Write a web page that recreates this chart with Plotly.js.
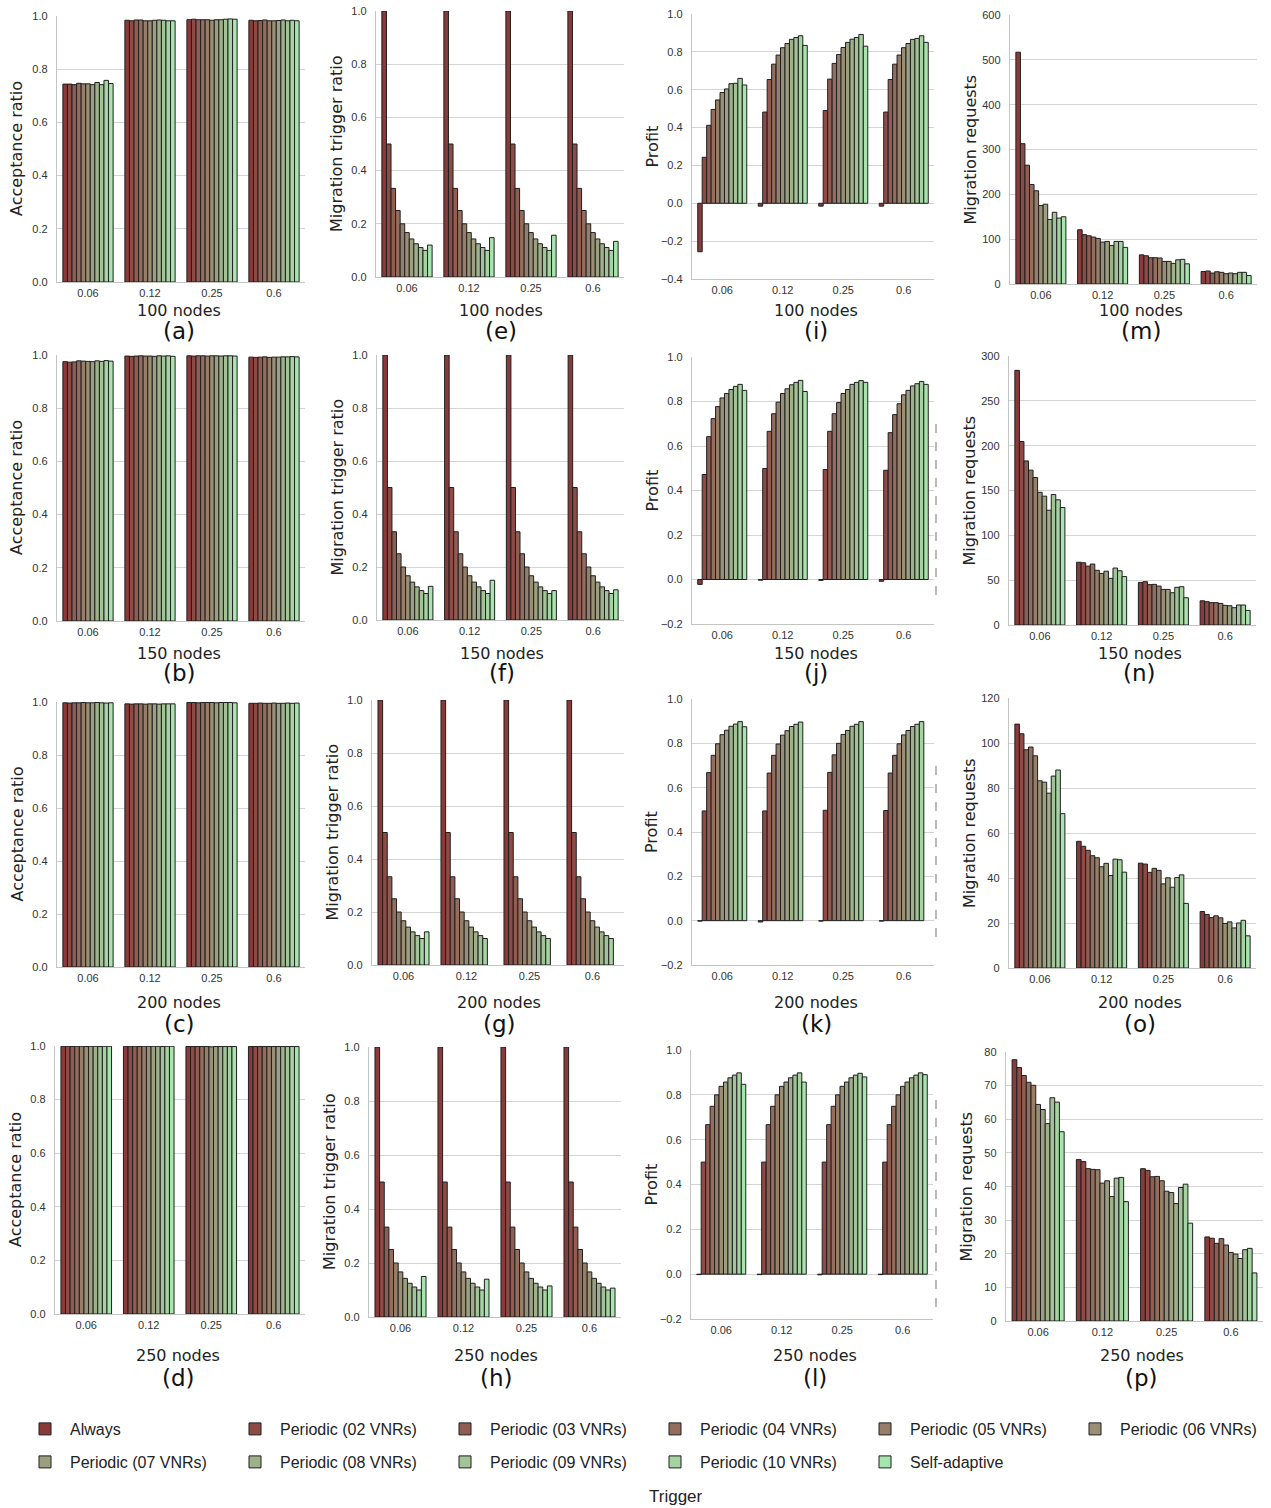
<!DOCTYPE html>
<html>
<head>
<meta charset="utf-8">
<script src="https://cdn.plot.ly/plotly-3.0.1.min.js"></script>
<style>
  html, body { margin: 0; padding: 0; background: #ffffff; }
  #chart { width: 1271px; height: 1508px; }
</style>
</head>
<body>
<div id="chart"></div>
<script>
// Bar groups on every x axis (migration threshold) and the compared triggers
const groups = ['0.06', '0.12', '0.25', '0.6'];
const triggers = [
  'Always', 'Periodic (02 VNRs)', 'Periodic (03 VNRs)', 'Periodic (04 VNRs)',
  'Periodic (05 VNRs)', 'Periodic (06 VNRs)', 'Periodic (07 VNRs)',
  'Periodic (08 VNRs)', 'Periodic (09 VNRs)', 'Periodic (10 VNRs)', 'Self-adaptive'
];
const palette = [
  '#8b3a3a', '#8e4b46', '#915c51', '#946d5d', '#977e68', '#9a8f74',
  '#9ca080', '#9fb18b', '#a2c297', '#a5d3a2', '#a8e4ae'
];

// Each array: one row per threshold group, one value per trigger (in the order above)
const acceptance100 = [
  [0.744, 0.744, 0.742, 0.747, 0.745, 0.745, 0.742, 0.750, 0.742, 0.758, 0.746],
  [0.984, 0.982, 0.985, 0.985, 0.982, 0.982, 0.984, 0.985, 0.984, 0.982, 0.982],
  [0.986, 0.988, 0.986, 0.986, 0.986, 0.984, 0.986, 0.986, 0.988, 0.989, 0.988],
  [0.984, 0.982, 0.983, 0.985, 0.982, 0.982, 0.983, 0.985, 0.982, 0.984, 0.982]
];
const acceptance150 = [
  [0.975, 0.973, 0.974, 0.978, 0.977, 0.976, 0.975, 0.978, 0.976, 0.979, 0.977],
  [0.996, 0.995, 0.996, 0.997, 0.996, 0.996, 0.995, 0.997, 0.996, 0.997, 0.995],
  [0.997, 0.996, 0.997, 0.997, 0.996, 0.997, 0.997, 0.996, 0.997, 0.997, 0.996],
  [0.992, 0.991, 0.992, 0.993, 0.991, 0.992, 0.992, 0.993, 0.993, 0.994, 0.993]
];
const acceptance200 = [
  [0.997, 0.996, 0.997, 0.997, 0.998, 0.997, 0.997, 0.998, 0.997, 0.996, 0.997],
  [0.993, 0.992, 0.993, 0.993, 0.992, 0.993, 0.993, 0.992, 0.993, 0.993, 0.993],
  [0.998, 0.998, 0.997, 0.998, 0.998, 0.998, 0.997, 0.998, 0.998, 0.998, 0.997],
  [0.995, 0.995, 0.996, 0.995, 0.995, 0.996, 0.995, 0.995, 0.996, 0.995, 0.996]
];
const acceptance250 = [
  [0.999, 0.999, 0.998, 0.999, 0.999, 0.998, 0.999, 0.999, 0.998, 0.999, 0.999],
  [0.999, 0.999, 0.999, 0.998, 0.999, 0.999, 0.999, 0.999, 0.998, 0.999, 0.999],
  [0.998, 0.998, 0.998, 0.998, 0.998, 0.997, 0.998, 0.998, 0.998, 0.998, 0.998],
  [0.998, 0.998, 0.998, 0.998, 0.998, 0.998, 0.998, 0.998, 0.998, 0.998, 0.998]
];

const trigger100 = [
  [1.0, 0.5, 0.333, 0.25, 0.2, 0.167, 0.143, 0.125, 0.111, 0.1, 0.12],
  [1.0, 0.5, 0.333, 0.25, 0.2, 0.167, 0.143, 0.125, 0.111, 0.1, 0.148],
  [1.0, 0.5, 0.333, 0.25, 0.2, 0.167, 0.143, 0.125, 0.111, 0.1, 0.157],
  [1.0, 0.5, 0.333, 0.25, 0.2, 0.167, 0.143, 0.125, 0.111, 0.1, 0.134]
];
const trigger150 = [
  [1.0, 0.5, 0.333, 0.25, 0.2, 0.167, 0.143, 0.125, 0.111, 0.1, 0.127],
  [1.0, 0.5, 0.333, 0.25, 0.2, 0.167, 0.143, 0.125, 0.111, 0.1, 0.15],
  [1.0, 0.5, 0.333, 0.25, 0.2, 0.167, 0.143, 0.125, 0.111, 0.1, 0.111],
  [1.0, 0.5, 0.333, 0.25, 0.2, 0.167, 0.143, 0.125, 0.111, 0.1, 0.114]
];
const trigger200 = [
  [1.0, 0.5, 0.333, 0.25, 0.2, 0.167, 0.143, 0.125, 0.111, 0.1, 0.125],
  [1.0, 0.5, 0.333, 0.25, 0.2, 0.167, 0.143, 0.125, 0.111, 0.1, null],
  [1.0, 0.5, 0.333, 0.25, 0.2, 0.167, 0.143, 0.125, 0.111, 0.1, null],
  [1.0, 0.5, 0.333, 0.25, 0.2, 0.167, 0.143, 0.125, 0.111, 0.1, null]
];
const trigger250 = [
  [1.0, 0.5, 0.333, 0.25, 0.2, 0.167, 0.143, 0.125, 0.111, 0.1, 0.15],
  [1.0, 0.5, 0.333, 0.25, 0.2, 0.167, 0.143, 0.125, 0.111, 0.1, 0.14],
  [1.0, 0.5, 0.333, 0.25, 0.2, 0.167, 0.143, 0.125, 0.111, 0.1, 0.115],
  [1.0, 0.5, 0.333, 0.25, 0.2, 0.167, 0.143, 0.125, 0.111, 0.1, 0.107]
];

const profit100 = [
  [-0.256, 0.243, 0.412, 0.496, 0.546, 0.585, 0.604, 0.632, 0.634, 0.660, 0.625],
  [-0.015, 0.482, 0.654, 0.735, 0.783, 0.822, 0.844, 0.866, 0.876, 0.885, 0.834],
  [-0.015, 0.490, 0.656, 0.739, 0.786, 0.823, 0.850, 0.867, 0.876, 0.892, 0.830],
  [-0.015, 0.482, 0.654, 0.735, 0.783, 0.822, 0.844, 0.866, 0.871, 0.885, 0.850]
];
const profit150 = [
  [-0.022, 0.472, 0.642, 0.723, 0.777, 0.816, 0.836, 0.854, 0.868, 0.877, 0.850],
  [-0.003, 0.499, 0.666, 0.745, 0.797, 0.836, 0.857, 0.875, 0.886, 0.895, 0.845],
  [-0.004, 0.494, 0.666, 0.745, 0.795, 0.836, 0.854, 0.877, 0.886, 0.894, 0.886],
  [-0.008, 0.491, 0.660, 0.741, 0.790, 0.830, 0.850, 0.870, 0.880, 0.890, 0.877]
];
const profit200 = [
  [-0.002, 0.495, 0.668, 0.746, 0.798, 0.839, 0.859, 0.877, 0.887, 0.898, 0.875],
  [-0.006, 0.495, 0.666, 0.746, 0.797, 0.837, 0.857, 0.876, 0.886, 0.896, null],
  [-0.002, 0.498, 0.669, 0.748, 0.800, 0.840, 0.858, 0.877, 0.886, 0.898, null],
  [-0.002, 0.497, 0.666, 0.746, 0.798, 0.838, 0.858, 0.876, 0.886, 0.898, null]
];
const profit250 = [
  [-0.002, 0.500, 0.667, 0.749, 0.800, 0.838, 0.857, 0.876, 0.888, 0.898, 0.847],
  [-0.002, 0.500, 0.667, 0.749, 0.800, 0.838, 0.857, 0.876, 0.888, 0.898, 0.857],
  [-0.003, 0.500, 0.667, 0.749, 0.800, 0.838, 0.857, 0.876, 0.888, 0.896, 0.880],
  [-0.002, 0.500, 0.667, 0.749, 0.800, 0.838, 0.857, 0.876, 0.888, 0.898, 0.890]
];

const requests100 = [
  [517, 313, 265, 222, 208, 175, 178, 144, 160, 147, 150],
  [121, 110, 107.5, 104.6, 101.6, 93.5, 95, 86, 95, 95, 81.6],
  [65, 63, 58.6, 58.6, 58, 50.4, 50.4, 46, 54, 55, 45],
  [28, 29, 24.5, 27.4, 26, 23, 24.5, 23, 26, 26, 19]
];
const requests150 = [
  [284, 204.6, 183, 172.7, 164.5, 148, 143.7, 128, 145.5, 139.6, 131],
  [70, 69.4, 65.7, 68, 61, 57.5, 60, 52, 63.5, 60.5, 54],
  [47.5, 48.3, 45, 45.3, 43.4, 39.7, 39.7, 36, 42, 42.7, 30.4],
  [27, 26, 24.9, 24.9, 24.1, 21.9, 21.5, 19.3, 22.3, 22.3, 16.3]
];
const requests200 = [
  [108.4, 104.1, 97, 98.2, 94.3, 83.2, 82.6, 77.7, 85.3, 88, 68.6],
  [56.3, 54.1, 52.3, 49.9, 49, 45, 46.5, 41.1, 48.4, 48.1, 42.6],
  [46.6, 46.2, 42.5, 44.3, 43.4, 37.4, 40.1, 35.9, 40.2, 41.4, 28.7],
  [25.1, 23.8, 22.4, 23.2, 22.3, 19.8, 20.5, 17.8, 20, 21.2, 14.3]
];
const requests250 = [
  [77.7, 75.4, 73, 71, 70.1, 64.4, 62.9, 58.7, 66.4, 65.1, 56.3],
  [48, 47.4, 45.3, 45.1, 45, 41, 41.7, 37, 42.5, 42.7, 35.5],
  [45.3, 44.8, 42.9, 43, 41.7, 38.6, 38.2, 34.9, 39.7, 40.7, 29.1],
  [25, 24.6, 23.1, 24.5, 22.6, 20.4, 19.9, 18.6, 21.2, 21.6, 14.3]
];

// Page geometry (pixels)
const W = 1271, H = 1508;

// One entry per panel: data, axis setup and its plot-area box [left, right, top, bottom]
const panels = [
  { data: acceptance100, ytitle: 'Acceptance ratio', nodes: '100 nodes', tag: '(a)', row: 0, col: 0, range: [0, 1], dtick: 0.2, fmt: '.1f', box: [57, 305, 16, 282] },
  { data: acceptance150, ytitle: 'Acceptance ratio', nodes: '150 nodes', tag: '(b)', row: 1, col: 0, range: [0, 1], dtick: 0.2, fmt: '.1f', box: [57, 305, 355, 621] },
  { data: acceptance200, ytitle: 'Acceptance ratio', nodes: '200 nodes', tag: '(c)', row: 2, col: 0, range: [0, 1], dtick: 0.2, fmt: '.1f', box: [57, 305, 702, 967] },
  { data: acceptance250, ytitle: 'Acceptance ratio', nodes: '250 nodes', tag: '(d)', row: 3, col: 0, range: [0, 1], dtick: 0.2, fmt: '.1f', box: [55, 305, 1046, 1314] },
  { data: trigger100, ytitle: 'Migration trigger ratio', nodes: '100 nodes', tag: '(e)', row: 0, col: 1, range: [0, 1], dtick: 0.2, fmt: '.1f', box: [376, 624, 11, 277] },
  { data: trigger150, ytitle: 'Migration trigger ratio', nodes: '150 nodes', tag: '(f)', row: 1, col: 1, range: [0, 1], dtick: 0.2, fmt: '.1f', box: [377, 624, 355, 620] },
  { data: trigger200, ytitle: 'Migration trigger ratio', nodes: '200 nodes', tag: '(g)', row: 2, col: 1, range: [0, 1], dtick: 0.2, fmt: '.1f', box: [372, 624, 700, 965] },
  { data: trigger250, ytitle: 'Migration trigger ratio', nodes: '250 nodes', tag: '(h)', row: 3, col: 1, range: [0, 1], dtick: 0.2, fmt: '.1f', box: [369, 621, 1047, 1317] },
  { data: profit100, ytitle: 'Profit', nodes: '100 nodes', tag: '(i)', row: 0, col: 2, range: [-0.4, 1], dtick: 0.2, fmt: '.1f', box: [692, 934, 14, 279] },
  { data: profit150, ytitle: 'Profit', nodes: '150 nodes', tag: '(j)', row: 1, col: 2, range: [-0.2, 1], dtick: 0.2, fmt: '.1f', box: [692, 934, 357, 624] },
  { data: profit200, ytitle: 'Profit', nodes: '200 nodes', tag: '(k)', row: 2, col: 2, range: [-0.2, 1], dtick: 0.2, fmt: '.1f', box: [692, 934, 699, 965] },
  { data: profit250, ytitle: 'Profit', nodes: '250 nodes', tag: '(l)', row: 3, col: 2, range: [-0.2, 1], dtick: 0.2, fmt: '.1f', box: [691, 933, 1050, 1319] },
  { data: requests100, ytitle: 'Migration requests', nodes: '100 nodes', tag: '(m)', row: 0, col: 3, range: [0, 600], dtick: 100, fmt: 'd', box: [1010, 1257, 15, 284] },
  { data: requests150, ytitle: 'Migration requests', nodes: '150 nodes', tag: '(n)', row: 1, col: 3, range: [0, 300], dtick: 50, fmt: 'd', box: [1009, 1256, 356, 625] },
  { data: requests200, ytitle: 'Migration requests', nodes: '200 nodes', tag: '(o)', row: 2, col: 3, range: [0, 120], dtick: 20, fmt: 'd', box: [1009, 1256, 698, 968] },
  { data: requests250, ytitle: 'Migration requests', nodes: '250 nodes', tag: '(p)', row: 3, col: 3, range: [0, 80], dtick: 10, fmt: 'd', box: [1006, 1263, 1052, 1321] }
];

// Vertical placement of the caption lines under each row, horizontal nudge per column
const nodesLineY = [310, 653, 1002, 1355];
const tagLineY = [331, 673, 1024, 1378];
const captionShift = [-2, 1, 3, 7];

const tickFont = { family: 'Liberation Sans, Arial, sans-serif', size: 11, color: '#333333' };
const titleFont = { family: 'DejaVu Sans, sans-serif', size: 16, color: '#222222' };
const legendFont = { family: 'Liberation Sans, Arial, sans-serif', size: 16, color: '#222222' };

const legendBase = {
  orientation: 'h', x: 20 / W, xanchor: 'left', yanchor: 'middle',
  font: legendFont, itemwidth: 40, entrywidth: 155, entrywidthmode: 'pixels',
  bgcolor: 'rgba(0,0,0,0)', borderwidth: 0, traceorder: 'normal',
  itemclick: false, itemdoubleclick: false
};

const traces = [];
const layout = {
  width: W,
  height: H,
  margin: { l: 0, r: 0, t: 0, b: 0 },
  paper_bgcolor: '#ffffff',
  plot_bgcolor: '#ffffff',
  barmode: 'group',
  bargap: 0.19,
  bargroupgap: 0,
  font: { family: 'Liberation Sans, Arial, sans-serif', color: '#222222' },
  annotations: [],
  shapes: [],
  legend: Object.assign({}, legendBase, { y: 1 - 1429 / H }),
  legend2: Object.assign({}, legendBase, { y: 1 - 1462 / H })
};

panels.forEach((p, k) => {
  const n = k === 0 ? '' : String(k + 1);
  const [left, right, top, bottom] = p.box;

  triggers.forEach((name, s) => {
    const trace = {
      type: 'bar',
      name: name,
      x: groups,
      y: p.data.map(row => row[s]),
      xaxis: 'x' + n,
      yaxis: 'y' + n,
      marker: { color: palette[s], line: { color: '#1f1f1f', width: 1 } },
      legend: s < 6 ? 'legend' : 'legend2',
      legendgroup: name,
      showlegend: k === 0,
      hovertemplate: name + '<br>%{x}: %{y}<extra></extra>'
    };
    // last entry of the first legend row only needs room for its own text
    if (s === 5) trace.legendwidth = 140;
    traces.push(trace);
  });

  layout['xaxis' + n] = {
    domain: [left / W, right / W],
    anchor: 'y' + n,
    type: 'category',
    showgrid: false,
    showline: true,
    linecolor: '#c4c4c4',
    linewidth: 1.2,
    ticks: '',
    tickfont: tickFont,
    ticklabelstandoff: 1,
    fixedrange: true
  };
  layout['yaxis' + n] = {
    domain: [1 - bottom / H, 1 - top / H],
    anchor: 'x' + n,
    range: p.range,
    tick0: 0,
    dtick: p.dtick,
    tickformat: p.fmt,
    showgrid: true,
    gridcolor: '#d4d4d4',
    gridwidth: 1,
    zeroline: false,
    showline: true,
    linecolor: '#c4c4c4',
    linewidth: 1.2,
    ticks: '',
    tickfont: tickFont,
    ticklabelstandoff: 6,
    fixedrange: true
  };

  layout.annotations.push({
    text: p.ytitle, textangle: -90, showarrow: false,
    xref: 'x' + n + ' domain', yref: 'y' + n + ' domain',
    x: 0, y: 0.5, xanchor: 'center', yanchor: 'middle', xshift: -40,
    font: titleFont
  });
  layout.annotations.push({
    text: p.nodes, showarrow: false,
    xref: 'x' + n + ' domain', yref: 'paper',
    x: 0.5, y: 1 - nodesLineY[p.row] / H, xanchor: 'center', yanchor: 'middle',
    xshift: captionShift[p.col],
    font: titleFont
  });
  layout.annotations.push({
    text: p.tag, showarrow: false,
    xref: 'x' + n + ' domain', yref: 'paper',
    x: 0.5, y: 1 - tagLineY[p.row] / H, xanchor: 'center', yanchor: 'middle',
    xshift: captionShift[p.col],
    font: { family: 'DejaVu Sans, sans-serif', size: 23, color: '#111111' }
  });
});

// Legend heading
layout.annotations.push({
  text: 'Trigger', showarrow: false, xref: 'paper', yref: 'paper',
  x: 676 / W, y: 1 - 1496 / H, xanchor: 'center', yanchor: 'middle',
  font: { family: 'Liberation Sans, Arial, sans-serif', size: 17, color: '#222222' }
});

// Dashed frame edges visible at the right of the lower profit panels
[[424, 598], [766, 941], [1100, 1309]].forEach(([y0, y1]) => {
  layout.shapes.push({
    type: 'line', xref: 'paper', yref: 'paper',
    x0: 936 / W, x1: 936 / W, y0: 1 - y0 / H, y1: 1 - y1 / H,
    line: { color: '#8a8a8a', width: 1.2, dash: 'dash' }
  });
});

Plotly.newPlot('chart', traces, layout, { displayModeBar: false, staticPlot: true });
</script>
</body>
</html>
